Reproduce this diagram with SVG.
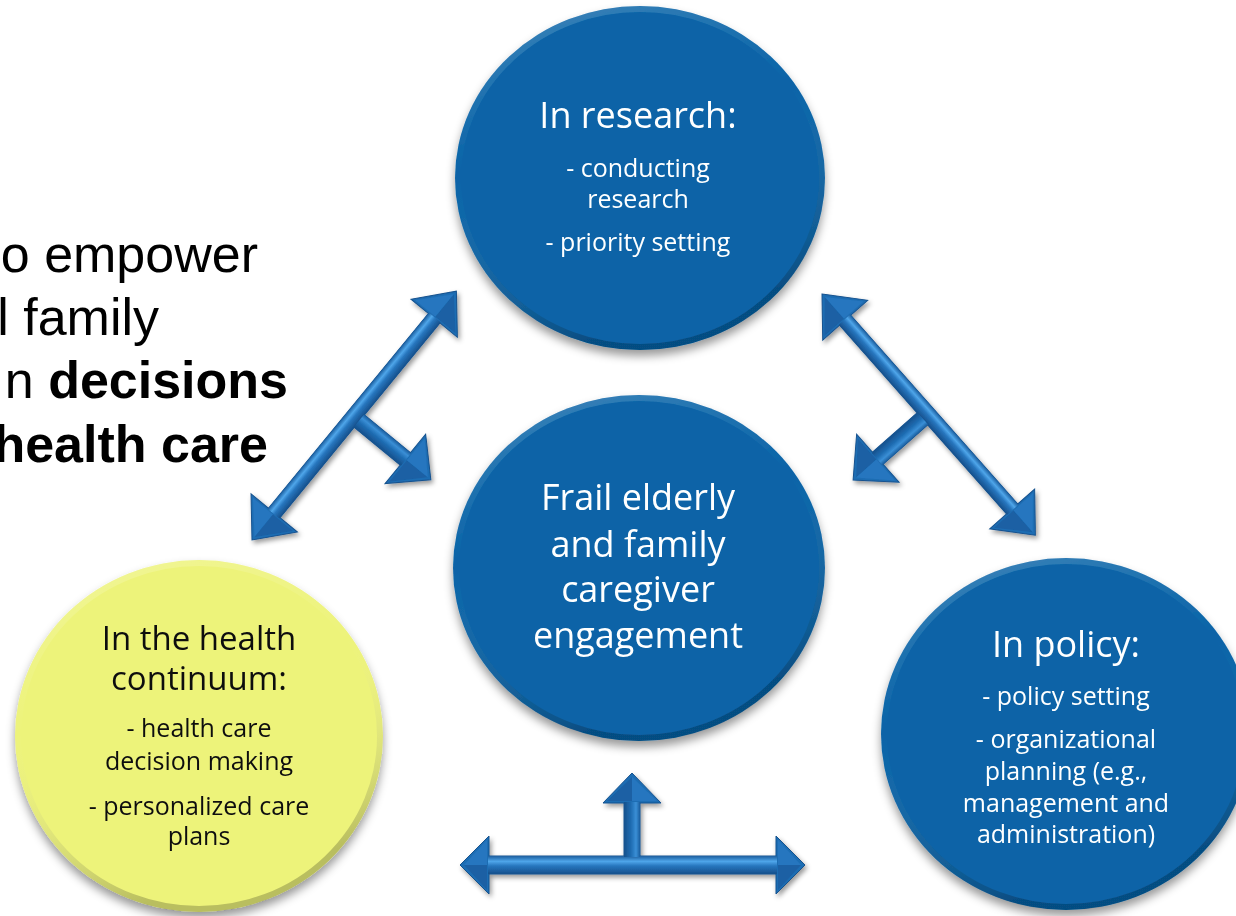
<svg xmlns="http://www.w3.org/2000/svg" width="1236" height="916" viewBox="0 0 1236 916">
<style>
 .ct{font-family:"Open Sans","Noto Sans",sans-serif;text-anchor:middle}
 .w{fill:#ffffff}
 .k{fill:#111111}
 .t36{font-size:36px}
 .t33{font-size:33px}
 .t25{font-size:25px}
 .intro{font-family:"Liberation Sans",Arial,sans-serif;font-size:52px;fill:#000;text-anchor:end}
 .b{font-weight:bold}
 .blue{fill:#0863a7}
 .yel{fill:#edf37a}
 .rimw{fill:none;stroke:url(#rim);stroke-width:6}
 .abase{fill:#1f6db3;stroke:#15528f;stroke-width:1;stroke-linejoin:miter}
 .hl{fill:#2676bf}
 .hd{fill:#1a61a4}
</style>
<defs>
 <filter id="cshadow" x="-20%" y="-20%" width="140%" height="150%">
  <feDropShadow dx="0" dy="6" stdDeviation="5" flood-color="#000" flood-opacity="0.4"/>
 </filter>
 <filter id="ashadow" x="-20%" y="-20%" width="140%" height="140%">
  <feDropShadow dx="2" dy="3" stdDeviation="2.5" flood-color="#000" flood-opacity="0.4"/>
 </filter>
 <linearGradient id="rim" x1="0" y1="0" x2="0.3" y2="1">
  <stop offset="0" stop-color="#ffffff" stop-opacity="0.22"/>
  <stop offset="0.45" stop-color="#ffffff" stop-opacity="0"/>
  <stop offset="1" stop-color="#000000" stop-opacity="0.22"/>
 </linearGradient>
 <linearGradient id="shaftH" x1="0" y1="0" x2="0" y2="1">
  <stop offset="0" stop-color="#1b5e9f"/>
  <stop offset="0.3" stop-color="#4fa6ea"/>
  <stop offset="0.55" stop-color="#2776be"/>
  <stop offset="1" stop-color="#16508c"/>
 </linearGradient>
 <linearGradient id="shaftV" x1="0" y1="0" x2="1" y2="0">
  <stop offset="0" stop-color="#16508c"/>
  <stop offset="0.45" stop-color="#1f6db3"/>
  <stop offset="0.75" stop-color="#3a8fd6"/>
  <stop offset="1" stop-color="#1b5e9f"/>
 </linearGradient>
</defs>

<g id="intro-text">
 <text class="intro" x="258" y="272">o empower</text>
 <text class="intro" x="159" y="335">l family</text>
 <text class="intro" x="288" y="398">n <tspan class="b">decisions</tspan></text>
 <text class="intro b" x="268" y="462">health care</text>
</g>

<g id="node-research" filter="url(#cshadow)">
 <ellipse class="blue" cx="640" cy="178" rx="185" ry="172"/>
 <ellipse class="rimw" cx="640" cy="178" rx="182" ry="169"/>
 <text class="ct w t36" x="638" y="128">In research:</text>
 <text class="ct w t25" x="638" y="177">- conducting</text>
 <text class="ct w t25" x="638" y="208">research</text>
 <text class="ct w t25" x="638" y="251">- priority setting</text>
</g>

<g id="node-center" filter="url(#cshadow)">
 <ellipse class="blue" cx="639" cy="568" rx="186" ry="173"/>
 <ellipse class="rimw" cx="639" cy="568" rx="183" ry="170"/>
 <text class="ct w t36" x="638" y="510">Frail elderly</text>
 <text class="ct w t36" x="638" y="557">and family</text>
 <text class="ct w t36" x="638" y="602">caregiver</text>
 <text class="ct w t36" x="638" y="648">engagement</text>
</g>

<g id="node-health" filter="url(#cshadow)">
 <ellipse class="yel" cx="199" cy="736" rx="184" ry="176"/>
 <ellipse class="rimw" cx="199" cy="736" rx="181" ry="173"/>
 <text class="ct k t33" x="199" y="650">In the health</text>
 <text class="ct k t33" x="199" y="690">continuum:</text>
 <text class="ct k t25" x="199" y="737">- health care</text>
 <text class="ct k t25" x="199" y="770">decision making</text>
 <text class="ct k t25" x="199" y="815">- personalized care</text>
 <text class="ct k t25" x="199" y="845">plans</text>
</g>

<g id="node-policy" filter="url(#cshadow)">
 <ellipse class="blue" cx="1066" cy="734" rx="185" ry="176"/>
 <ellipse class="rimw" cx="1066" cy="734" rx="182" ry="173"/>
 <text class="ct w t36" x="1066" y="657">In policy:</text>
 <text class="ct w t25" x="1066" y="705">- policy setting</text>
 <text class="ct w t25" x="1066" y="748">- organizational</text>
 <text class="ct w t25" x="1066" y="780">planning (e.g.,</text>
 <text class="ct w t25" x="1066" y="812">management and</text>
 <text class="ct w t25" x="1066" y="843">administration)</text>
</g>

<g id="connectors">
 <defs>
  <g id="tArrow">
   <polygon class="abase" points="0,0 35,-30 35,-7.5 287,-7.5 287,-30 322,0 287,30 287,7.5 168,7.5 168,67 192,67 160,100 128,67 152,67 152,7.5 35,7.5 35,30"/>
   <polygon class="hl" points="33,-26 4,0 33,0"/>
   <polygon class="hd" points="33,0 4,0 33,26"/>
   <polygon class="hl" points="289,-26 318,0 289,0"/>
   <polygon class="hd" points="289,0 318,0 289,26"/>
   <polygon class="hd" points="132,69 160,96 160,69"/>
   <polygon class="hl" points="160,69 160,96 188,69"/>
   <rect x="34" y="-7.5" width="254" height="15" fill="url(#shaftH)"/>
   <rect x="152" y="7" width="16" height="61" fill="url(#shaftV)"/>
  </g>
 </defs>
 <g id="conn-left" filter="url(#ashadow)">
  <use href="#tArrow" transform="translate(252,540) rotate(-50.6)"/>
 </g>
 <g id="conn-right" filter="url(#ashadow)">
  <use href="#tArrow" transform="translate(822,294) rotate(48.5)"/>
 </g>
 <g id="conn-bottom" filter="url(#ashadow)">
  <g transform="translate(460,865)">
   <polygon class="abase" points="0,0 29,-29 29,-9 164,-9 164,-62 143,-62 172,-92 201,-62 180,-62 180,-9 316,-9 316,-29 345,0 316,29 316,9 29,9 29,29"/>
   <polygon class="hl" points="27,-25 4,0 27,0"/>
   <polygon class="hd" points="27,0 4,0 27,25"/>
   <polygon class="hl" points="318,-25 341,0 318,0"/>
   <polygon class="hd" points="318,0 341,0 318,25"/>
   <polygon class="hd" points="147,-64 172,-88 172,-64"/>
   <polygon class="hl" points="172,-64 172,-88 197,-64"/>
   <rect x="28" y="-9" width="289" height="18" fill="url(#shaftH)"/>
   <rect x="164" y="-63" width="16" height="55" fill="url(#shaftV)"/>
  </g>
 </g>
</g>
</svg>
